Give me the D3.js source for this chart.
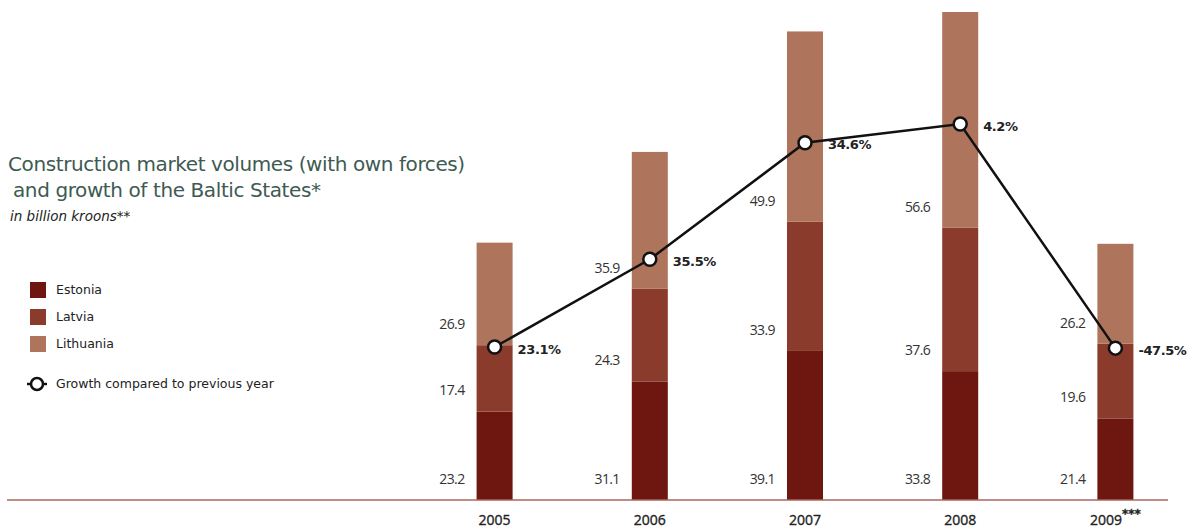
<!DOCTYPE html>
<html><head><meta charset="utf-8">
<script src="https://cdn.jsdelivr.net/npm/d3@7"></script>
<style>body{margin:0;background:#fff;}svg{display:block;}</style>
</head><body>
<script>
const years = ["2005","2006","2007","2008","2009"];
const yearSuffix = ["","","","","***"];
const estonia = [23.2, 31.1, 39.1, 33.8, 21.4];
const latvia = [17.4, 24.3, 33.9, 37.6, 19.6];
const lithuania = [26.9, 35.9, 49.9, 56.6, 26.2];
const growth = [23.1, 35.5, 34.6, 4.2, -47.5];
const seriesNames = ["Estonia","Latvia","Lithuania"];
const colors = ["#6e1610","#8a3b2b","#ae745c"];

const W = 1193, H = 530;
const svg = d3.select("body").append("svg").attr("width", W).attr("height", H);
const baseY = 500;

const x = d3.scaleBand().domain(years).range([417, 1193]).paddingInner(0.768).paddingOuter(0.384);
const y = d3.scaleLinear().domain([0, 128]).range([baseY, 12]);
// growth line is placed on a secondary scale of the annual total
const yLine = d3.scaleLinear().domain([26, 128]).range([baseY, 124]);

const data = years.map((yr, i) => ({year: yr, vals: [estonia[i], latvia[i], lithuania[i]], total: estonia[i]+latvia[i]+lithuania[i], growth: growth[i], suffix: yearSuffix[i]}));

const stack = d3.stack().keys([0,1,2]).value((d, k) => d.vals[k]);
const layers = stack(data);

layers.forEach((layer, k) => {
  svg.append("g").selectAll("rect").data(layer).join("rect")
    .attr("x", d => x(d.data.year))
    .attr("width", x.bandwidth())
    .attr("y", d => y(d[1]))
    .attr("height", d => y(d[0]) - y(d[1]))
    .attr("fill", colors[k]);
  svg.append("g").selectAll("text").data(layer).join("text")
    .attr("x", d => x(d.data.year) - 12)
    .attr("y", d => y(d[0]) - 21)
    .attr("dy", "0.35em")
    .attr("text-anchor", "end")
    .attr("font-family", "'Open Sans', 'DejaVu Sans', sans-serif")
    .attr("font-size", 14)
    .attr("letter-spacing", -0.6)
    .attr("fill", "#333")
    .text(d => d.data.vals[k].toFixed(1));
});

// baseline
svg.append("line").attr("x1", 7).attr("x2", 1168).attr("y1", baseY).attr("y2", baseY)
  .attr("stroke", "#a8675d").attr("stroke-width", 1.5);

// x labels
const xl = svg.append("g").selectAll("text").data(data).join("text")
  .attr("x", d => x(d.year) + x.bandwidth()/2)
  .attr("y", 525)
  .attr("text-anchor", "middle")
  .attr("font-family", "'Open Sans', 'DejaVu Sans', sans-serif")
  .attr("font-size", 14)
  .attr("fill", "#222")
  .attr("stroke", "#222").attr("stroke-width", 0.35);
xl.append("tspan").text(d => d.year);
xl.append("tspan").attr("dy", -7).attr("font-size", 12).attr("font-weight", "bold").attr("font-family", "'DejaVu Sans', sans-serif").text(d => d.suffix);

// growth line
const cx = d => x(d.year) + x.bandwidth()/2;
svg.append("path").datum(data)
  .attr("d", d3.line().x(cx).y(d => yLine(d.total)))
  .attr("fill", "none").attr("stroke", "#111").attr("stroke-width", 2.5);
svg.append("g").selectAll("circle").data(data).join("circle")
  .attr("cx", cx).attr("cy", d => yLine(d.total)).attr("r", 6.5)
  .attr("fill", "#fff").attr("stroke", "#111").attr("stroke-width", 2.5);
svg.append("g").selectAll("text").data(data).join("text")
  .attr("x", d => cx(d) + 23)
  .attr("y", d => yLine(d.total) + 2)
  .attr("dy", "0.35em")
  .attr("font-family", "'DejaVu Sans', sans-serif")
  .attr("font-weight", "bold")
  .attr("font-size", 13)
  .attr("letter-spacing", -0.4)
  .attr("fill", "#222")
  .text(d => d.growth.toFixed(1) + "%");

// title
const title = svg.append("g").attr("font-family", "'DejaVu Sans', sans-serif").attr("fill", "#3e5a52");
title.append("text").attr("x", 8).attr("y", 171).attr("font-size", 20).attr("letter-spacing", -0.4).text("Construction market volumes (with own forces)");
title.append("text").attr("x", 13).attr("y", 197).attr("font-size", 20).attr("letter-spacing", -0.4).text("and growth of the Baltic States*");
svg.append("text").attr("x", 10).attr("y", 221).attr("font-family", "'DejaVu Sans', sans-serif")
  .attr("font-style", "italic").attr("font-size", 13.5).attr("fill", "#222").text("in billion kroons**");

// legend
const leg = svg.append("g");
seriesNames.forEach((n, k) => {
  leg.append("rect").attr("x", 30).attr("y", 282 + k*27).attr("width", 16).attr("height", 16).attr("fill", colors[k]);
  leg.append("text").attr("x", 56).attr("y", 290 + k*27).attr("dy", "0.35em")
    .attr("font-family", "'DejaVu Sans', sans-serif").attr("font-size", 12.5).attr("fill", "#222").text(n);
});
leg.append("line").attr("x1", 27).attr("x2", 47).attr("y1", 384).attr("y2", 384).attr("stroke", "#111").attr("stroke-width", 2.5);
leg.append("circle").attr("cx", 37).attr("cy", 384).attr("r", 6).attr("fill", "#fff").attr("stroke", "#111").attr("stroke-width", 2.5);
leg.append("text").attr("x", 56).attr("y", 384).attr("dy", "0.35em")
  .attr("font-family", "'DejaVu Sans', sans-serif").attr("font-size", 12.5).attr("fill", "#222").text("Growth compared to previous year");
</script>
</body></html>
